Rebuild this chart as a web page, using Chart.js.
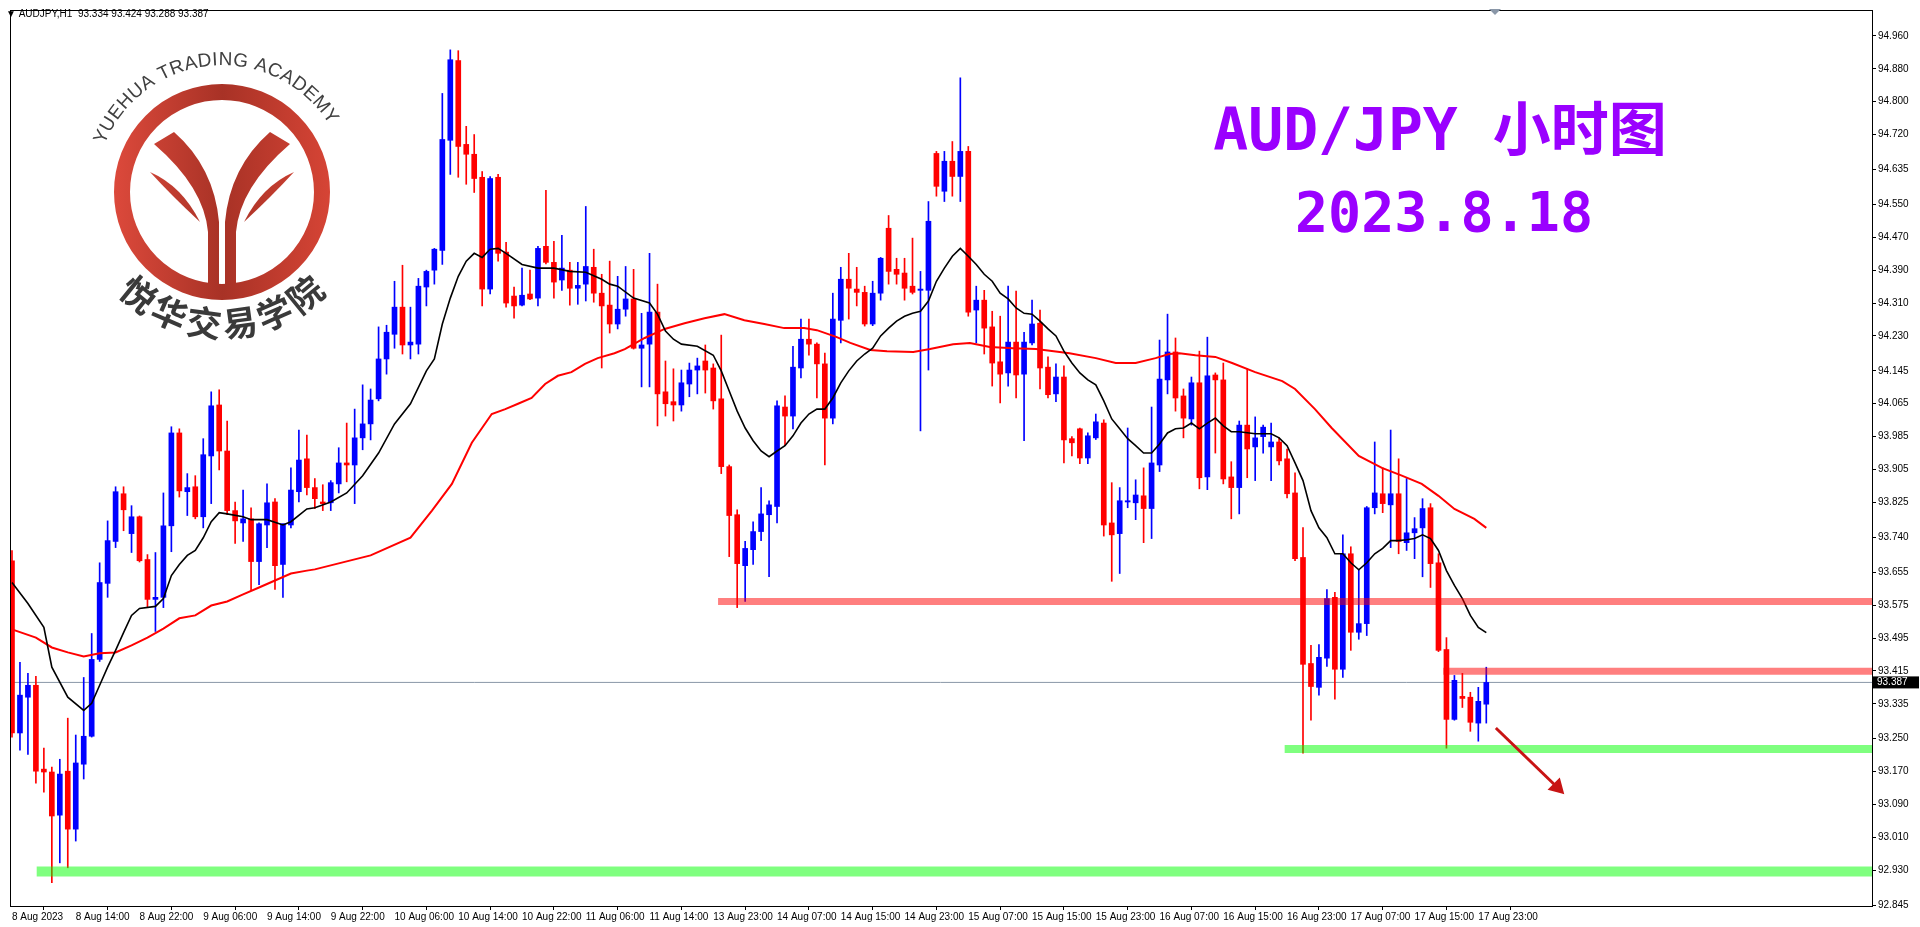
<!DOCTYPE html>
<html><head><meta charset="utf-8">
<script src="https://cdn.jsdelivr.net/npm/chart.js@4"></script>
<style>html,body{margin:0;padding:0;background:#fff;overflow:hidden}#c{display:block}</style>
</head><body><canvas id="c" width="1920" height="927" style="width:1920px;height:927px"></canvas>
<script>
const opens=[93.683,93.264,93.351,93.380,93.176,93.169,93.064,93.171,93.030,93.188,
93.256,93.443,93.628,93.730,93.846,93.749,93.790,93.686,93.589,93.594,
93.768,93.994,93.851,93.863,93.790,93.938,94.062,93.950,93.805,93.775,
93.785,93.681,93.770,93.826,93.674,93.770,93.851,93.931,93.861,93.826,
93.824,93.870,93.921,93.916,93.982,94.016,94.077,94.174,94.234,94.300,
94.208,94.210,94.349,94.390,94.438,94.706,94.900,94.696,94.672,94.616,
94.344,94.616,94.434,94.327,94.305,94.332,94.322,94.448,94.409,94.366,
94.390,94.346,94.356,94.397,94.334,94.305,94.259,94.295,94.320,94.200,
94.210,94.288,94.094,94.070,94.062,94.113,94.147,94.169,94.152,94.077,
93.912,93.795,93.671,93.710,93.754,93.795,93.815,94.057,94.035,94.152,
94.222,94.210,94.162,94.030,94.268,94.368,94.344,94.336,94.259,94.334,
94.492,94.392,94.383,94.351,94.341,94.341,94.674,94.582,94.655,94.618,
94.679,94.293,94.317,94.252,94.167,94.140,94.215,94.137,94.213,94.261,
94.154,94.089,94.130,93.980,94.004,93.933,93.982,94.018,93.775,93.749,
93.826,93.824,93.841,93.810,93.916,94.123,94.191,94.084,94.028,94.116,
93.887,94.135,94.123,93.887,93.861,94.013,93.960,93.985,93.960,93.972,
93.931,93.848,93.691,93.433,93.375,93.446,93.594,93.419,93.700,93.509,
93.530,93.812,93.846,93.819,93.846,93.727,93.751,93.763,93.812,93.678,
93.467,93.297,93.353,93.351,93.288,93.334];
const highs=[93.708,93.436,93.409,93.402,93.227,93.181,93.200,93.300,93.259,93.399,
93.506,93.678,93.780,93.863,93.863,93.817,93.792,93.698,93.703,93.848,
94.009,94.004,93.895,93.890,93.980,94.094,94.099,94.023,93.826,93.855,
93.812,93.775,93.870,93.834,93.773,93.909,94.001,93.989,93.883,93.868,
93.878,93.958,94.018,94.052,94.111,94.101,94.252,94.256,94.363,94.402,
94.300,94.370,94.390,94.443,94.820,94.926,94.924,94.740,94.720,94.630,
94.618,94.623,94.458,94.349,94.395,94.390,94.448,94.584,94.460,94.475,
94.409,94.409,94.545,94.441,94.380,94.412,94.375,94.399,94.392,94.285,
94.431,94.356,94.169,94.150,94.147,94.164,94.176,94.208,94.162,94.232,
93.916,93.807,93.730,93.778,93.861,93.829,94.072,94.084,94.205,94.271,
94.271,94.213,94.188,94.334,94.397,94.431,94.397,94.351,94.363,94.421,
94.523,94.419,94.419,94.468,94.387,94.557,94.679,94.679,94.703,94.858,
94.691,94.351,94.341,94.290,94.278,94.351,94.339,94.239,94.317,94.293,
94.179,94.162,94.157,93.985,94.006,93.994,94.040,94.026,93.873,93.861,
94.006,93.880,93.909,94.057,94.220,94.283,94.225,94.101,94.130,94.193,
94.227,94.140,94.164,93.924,94.023,94.150,94.033,94.013,94.018,93.982,
93.955,93.897,93.764,93.477,93.479,93.613,93.606,93.746,93.717,93.661,
93.815,93.972,93.909,94.001,93.931,93.883,93.788,93.834,93.822,93.700,
93.496,93.404,93.409,93.363,93.375,93.424];
const lows=[93.254,93.222,93.212,93.142,93.120,92.900,92.948,92.936,93.001,93.152,
93.254,93.438,93.594,93.715,93.756,93.703,93.680,93.569,93.511,93.569,
93.705,93.838,93.793,93.785,93.763,93.822,93.904,93.795,93.725,93.730,
93.611,93.625,93.715,93.613,93.594,93.763,93.826,93.843,93.810,93.805,
93.805,93.848,93.875,93.822,93.953,93.977,94.072,94.137,94.200,94.186,
94.174,94.186,94.303,94.356,94.404,94.623,94.616,94.599,94.579,94.303,
94.332,94.412,94.300,94.273,94.303,94.318,94.303,94.405,94.322,94.341,
94.305,94.307,94.315,94.312,94.152,94.237,94.247,94.278,94.198,94.106,
94.106,94.011,94.035,94.023,94.047,94.082,94.089,94.091,94.052,93.895,
93.693,93.569,93.584,93.674,93.732,93.644,93.775,93.963,94.004,94.128,
94.183,94.079,93.916,94.016,94.213,94.271,94.303,94.254,94.255,94.317,
94.356,94.356,94.317,94.332,93.999,94.147,94.570,94.557,94.570,94.557,
94.278,94.213,94.186,94.108,94.067,94.108,94.079,93.975,94.208,94.101,
94.079,94.070,93.921,93.938,93.919,93.919,93.978,93.743,93.633,93.652,
93.812,93.783,93.727,93.737,93.900,94.089,94.047,93.982,94.013,93.858,
93.856,93.945,93.870,93.785,93.797,93.885,93.878,93.945,93.878,93.916,
93.836,93.683,93.215,93.295,93.356,93.426,93.346,93.399,93.465,93.492,
93.501,93.797,93.800,93.715,93.700,93.708,93.688,93.644,93.618,93.462,
93.227,93.295,93.326,93.268,93.244,93.288];
const closes=[93.264,93.356,93.380,93.171,93.169,93.062,93.164,93.030,93.191,93.256,
93.443,93.630,93.732,93.851,93.807,93.790,93.683,93.589,93.594,93.768,
93.994,93.853,93.861,93.790,93.941,94.060,93.950,93.805,93.780,93.785,
93.681,93.773,93.824,93.671,93.773,93.855,93.928,93.861,93.834,93.822,
93.873,93.921,93.916,93.982,94.016,94.074,94.174,94.239,94.300,94.208,
94.215,94.351,94.387,94.441,94.708,94.902,94.691,94.672,94.613,94.344,
94.613,94.431,94.310,94.303,94.329,94.320,94.443,94.409,94.361,94.395,
94.346,94.353,94.399,94.334,94.303,94.259,94.295,94.320,94.200,94.208,
94.288,94.089,94.065,94.062,94.116,94.147,94.157,94.147,94.072,93.912,
93.793,93.676,93.713,93.754,93.797,93.819,94.060,94.035,94.154,94.222,
94.210,94.162,94.030,94.271,94.368,94.346,94.336,94.259,94.334,94.419,
94.387,94.380,94.346,94.336,94.344,94.509,94.594,94.655,94.618,94.679,
94.288,94.317,94.249,94.164,94.137,94.215,94.135,94.215,94.259,94.152,
94.087,94.130,93.977,93.970,93.933,93.987,94.021,93.770,93.746,93.829,
93.829,93.843,93.810,93.921,94.125,94.191,94.079,94.030,94.116,93.885,
94.133,94.123,93.882,93.861,94.013,93.955,93.982,94.008,93.972,93.926,
93.846,93.688,93.431,93.377,93.448,93.591,93.419,93.700,93.509,93.530,
93.812,93.848,93.822,93.846,93.730,93.751,93.761,93.810,93.676,93.465,
93.297,93.392,93.348,93.290,93.341,93.387];

const blackX=[0,2,4,5,7,9,10,11,12,13,14,15,16,18,19,20,21,22,23,24,25,26,27,29,30,32,34,35,37,38,40,42,44,46,48,50,52,53,54,55,56,57,58,59,60,61,62,64,66,68,70,72,74,75,76,78,80,81,82,83,84,86,88,89,90,91,92,93,94,95,96,97,98,99,100,101,102,103,104,105,106,107,108,109,110,111,112,113,114,115,116,117,118,119,120,121,122,123,124,125,126,127,128,129,130,131,132,133,134,135,136,137,138,139,140,141,142,143,144,145,146,147,148,149,150,151,152,153,154,156,158,159,160,161,162,163,164,165,166,167,168,169,170,171,172,173,174,175,176,177,178,179,180,181,182,183,184,185];
const blackY=[93.630,93.579,93.521,93.424,93.351,93.319,93.336,93.380,93.424,93.465,93.508,93.550,93.567,93.572,93.591,93.647,93.674,93.696,93.708,93.739,93.778,93.800,93.797,93.790,93.783,93.783,93.770,93.778,93.809,93.812,93.826,93.848,93.890,93.945,94.016,94.065,94.145,94.174,94.259,94.322,94.375,94.412,94.431,94.421,94.441,94.443,94.431,94.404,94.395,94.395,94.387,94.385,94.368,94.356,94.351,94.322,94.310,94.283,94.242,94.222,94.210,94.205,94.183,94.145,94.096,94.047,94.006,93.975,93.950,93.936,93.950,93.963,93.987,94.018,94.040,94.052,94.052,94.079,94.116,94.145,94.169,94.186,94.200,94.230,94.249,94.266,94.278,94.285,94.290,94.315,94.363,94.395,94.424,94.443,94.424,94.404,94.380,94.363,94.334,94.320,94.298,94.285,94.283,94.266,94.247,94.230,94.193,94.164,94.140,94.123,94.111,94.072,94.028,94.004,93.980,93.963,93.945,93.945,93.967,93.994,94.004,94.006,94.018,94.004,94.018,94.030,94.011,93.997,93.997,93.992,93.992,93.982,93.963,93.921,93.878,93.805,93.763,93.739,93.700,93.700,93.678,93.661,93.678,93.700,93.713,93.732,93.732,93.734,93.737,93.746,93.737,93.708,93.659,93.623,93.591,93.550,93.521,93.508];
const redX=[0,3,5,7,9,11,13,15,17,19,21,23,25,27,29,31,33,35,37,38,45,50,52.7,55.2,57.7,60.2,61.9,63.5,65.2,66.9,68.5,70.2,71.9,73.5,75.6,76.9,79.4,81.9,84.4,86.9,89.4,91.9,94.4,96.9,99.4,101,103.5,105.2,107.7,109.8,113.1,115.2,118.1,120.2,122.7,125.6,128.5,132.7,136,138.5,141,143.5,145.2,146.5,148.5,151,153.1,156,159.4,161,163.5,165.6,169,171.9,174.4,176.9,179,181,183.5,185];
const redY=[93.516,93.496,93.472,93.460,93.450,93.458,93.460,93.477,93.496,93.518,93.543,93.550,93.574,93.584,93.601,93.618,93.635,93.652,93.659,93.662,93.696,93.739,93.805,93.870,93.970,94.040,94.052,94.065,94.079,94.113,94.133,94.142,94.162,94.176,94.188,94.198,94.225,94.247,94.261,94.273,94.283,94.268,94.259,94.249,94.249,94.244,94.227,94.213,94.196,94.193,94.191,94.198,94.210,94.213,94.203,94.200,94.198,94.188,94.176,94.164,94.164,94.176,94.186,94.188,94.183,94.179,94.164,94.142,94.120,94.101,94.052,94.006,93.938,93.909,93.890,93.870,93.841,93.809,93.785,93.763];

const levelPrices=[92.927,93.584,93.414,93.225];
const levelStarts=[3.1,88.6,179.6,159.7];
const levelColors=['rgba(0,255,0,0.5)','rgba(255,0,0,0.5)','rgba(255,0,0,0.5)','rgba(0,255,0,0.5)'];
const levelWidths=[10,7,7,8];
const lastPrice=93.387;
const arrowX=[186.2,193.9];
const arrowY=[93.276,93.132];

const yTicks=[94.960,94.880,94.800,94.720,94.635,94.550,94.470,94.390,94.310,94.230,94.145,94.065,93.985,93.905,93.825,93.740,93.655,93.575,93.495,93.415,93.335,93.250,93.170,93.090,93.010,92.930,92.845];
const xTickIdx=[0,8,16,24,32,40,48,56,64,72,80,88,96,104,112,120,128,136,144,152,160,168,176,184];
const xLabels=['8 Aug 2023','8 Aug 14:00','8 Aug 22:00','9 Aug 06:00','9 Aug 14:00','9 Aug 22:00','10 Aug 06:00','10 Aug 14:00','10 Aug 22:00','11 Aug 06:00','11 Aug 14:00','13 Aug 23:00','14 Aug 07:00','14 Aug 15:00','14 Aug 23:00','15 Aug 07:00','15 Aug 15:00','15 Aug 23:00','16 Aug 07:00','16 Aug 15:00','16 Aug 23:00','17 Aug 07:00','17 Aug 15:00','17 Aug 23:00'];

const XMAX=233.4;
const cols=opens.map((o,i)=>closes[i]>=o?'#0000ff':'#ff0000');
const datasets=[];
datasets.push({type:'line',data:[{x:-1,y:lastPrice},{x:XMAX,y:lastPrice}],borderColor:'#8a97a8',borderWidth:1,pointRadius:0,order:10});
datasets.push({type:'bar',data:highs.map((h,i)=>({x:i,y:[lows[i],h]})),backgroundColor:cols,barThickness:1,grouped:false,order:9});
datasets.push({type:'bar',data:opens.map((o,i)=>({x:i,y:[o,closes[i]]})),backgroundColor:cols,barThickness:5,minBarLength:1,grouped:false,order:8});
datasets.push({type:'line',data:redX.map((x,i)=>({x,y:redY[i]})),borderColor:'#ff0000',borderWidth:2,pointRadius:0,order:5});
datasets.push({type:'line',data:blackX.map((x,i)=>({x,y:blackY[i]})),borderColor:'#000000',borderWidth:1.6,pointRadius:0,order:4});
levelPrices.forEach((p,k)=>datasets.push({type:'line',data:[{x:levelStarts[k],y:p},{x:XMAX,y:p}],borderColor:levelColors[k],borderWidth:levelWidths[k],borderCapStyle:'butt',pointRadius:0,order:2}));
datasets.push({type:'line',data:arrowX.map((x,i)=>({x,y:arrowY[i]})),borderColor:'#c81414',borderWidth:3,pointRadius:[0,7],pointStyle:'triangle',pointRotation:135,pointBackgroundColor:'#c81414',pointBorderColor:'#c81414',order:1});

function arcText(ctx,text,cx,cy,r,aMid,font,color,outside){
  ctx.save();ctx.font=font;ctx.fillStyle=color;ctx.textAlign='center';ctx.textBaseline='middle';
  const widths=[...text].map(c=>ctx.measureText(c).width+1);
  const total=widths.reduce((a,b)=>a+b,0);
  let a=aMid-(outside?1:-1)*total/r/2;
  [...text].forEach((c,i)=>{
    const da=widths[i]/r;const am=a+(outside?1:-1)*da/2;
    ctx.save();ctx.translate(cx+r*Math.cos(am),cy+r*Math.sin(am));
    ctx.rotate(outside?am+Math.PI/2:am-Math.PI/2);ctx.fillText(c,0,0);ctx.restore();
    a+=(outside?1:-1)*da;
  });
  ctx.restore();
}
const deco={id:'deco',
 beforeDatasetsDraw(ch){
  const ctx=ch.ctx;const cx=222,cy=192;
  ctx.save();
  const g=ctx.createLinearGradient(110,0,335,0);g.addColorStop(0,'#de4a3c');g.addColorStop(0.5,'#a83226');g.addColorStop(1,'#d84536');
  ctx.strokeStyle=g;ctx.lineWidth=16;ctx.beginPath();ctx.arc(cx,cy,100,0,Math.PI*2);ctx.stroke();
  ctx.fillStyle=g;
  [[1],[-1]].forEach(([s])=>{
    ctx.beginPath();
    ctx.moveTo(cx-s*68,cy-48);
    ctx.quadraticCurveTo(cx-s*18,cy-5,cx-s*14,cy+40);
    ctx.lineTo(cx-s*14,cy+96);ctx.lineTo(cx-s*3,cy+96);ctx.lineTo(cx-s*3,cy+30);
    ctx.quadraticCurveTo(cx-s*8,cy-25,cx-s*48,cy-60);ctx.closePath();ctx.fill();
    ctx.beginPath();
    ctx.moveTo(cx-s*72,cy-20);ctx.quadraticCurveTo(cx-s*40,cy-6,cx-s*22,cy+30);
    ctx.quadraticCurveTo(cx-s*50,cy+4,cx-s*72,cy-20);ctx.fill();
  });
  arcText(ctx,'YUEHUA TRADING ACADEMY',cx,cy,132,-1.66,'19px "Liberation Sans"','#404040',true);
  arcText(ctx,'悦华交易学院',cx,cy,132,Math.PI/2,'bold 35px "Noto Sans CJK SC"','#3a3a3a',false);
  ctx.restore();
 },
 afterDraw(ch){
  const ctx=ch.ctx,a=ch.chartArea;
  ctx.save();
  ctx.strokeStyle='#000';ctx.lineWidth=1;ctx.strokeRect(a.left+0.5,a.top+0.5,a.right-a.left,a.bottom-a.top);
  ctx.fillStyle='#000';ctx.font='10px "Liberation Sans"';ctx.textBaseline='middle';
  ctx.fillText('▼ AUDJPY,H1  93.334 93.424 93.288 93.387',6,14);
  ctx.fillStyle='#8a97a8';ctx.beginPath();ctx.moveTo(1489,9);ctx.lineTo(1501,9);ctx.lineTo(1495,15);ctx.fill();
  const yp=ch.scales.y.getPixelForValue(lastPrice);
  ctx.fillStyle='#000';ctx.fillRect(a.right+1,yp-6,46,12);
  ctx.fillStyle='#fff';ctx.textAlign='left';ctx.fillText(lastPrice.toFixed(3),a.right+5,yp);
  ctx.fillStyle='#9a00ff';ctx.textAlign='center';ctx.textBaseline='alphabetic';
  ctx.font='bold 58px "DejaVu Sans Mono","Noto Sans CJK SC"';
  ctx.fillText('AUD/JPY 小时图',1440,150);
  ctx.font='bold 55px "DejaVu Sans Mono"';
  ctx.fillText('2023.8.18',1444,231);
  ctx.restore();
 }};

new Chart(document.getElementById('c'),{
 type:'bar',
 data:{datasets},
 options:{responsive:false,animation:false,devicePixelRatio:1,
  layout:{padding:{top:8,left:3,right:0,bottom:0}},
  plugins:{legend:{display:false},tooltip:{enabled:false}},
  elements:{line:{tension:0}},
  scales:{
   x:{type:'linear',min:-0.25,max:XMAX,offset:false,
    afterBuildTicks:s=>{s.ticks=xTickIdx.map(v=>({value:v}));},
    afterFit:s=>{s.height=21;},
    grid:{drawOnChartArea:false,tickLength:4,color:'#000'},border:{color:'#000'},
    ticks:{autoSkip:false,maxRotation:0,align:'start',padding:1,color:'#000',font:{size:10,family:'Liberation Sans'},
     callback:v=>{const k=xTickIdx.indexOf(v);return k>=0?xLabels[k]:'';}}},
   y:{type:'linear',position:'right',min:92.843,max:95.023,
    afterBuildTicks:s=>{s.ticks=yTicks.map(v=>({value:v}));},
    afterFit:s=>{s.width=48;},
    grid:{drawOnChartArea:false,tickLength:4,color:'#000'},border:{color:'#000'},
    ticks:{autoSkip:false,padding:2,color:'#000',font:{size:10,family:'Liberation Sans'},callback:v=>v.toFixed(3)}}
  }},
 plugins:[deco]});
</script></body></html>
